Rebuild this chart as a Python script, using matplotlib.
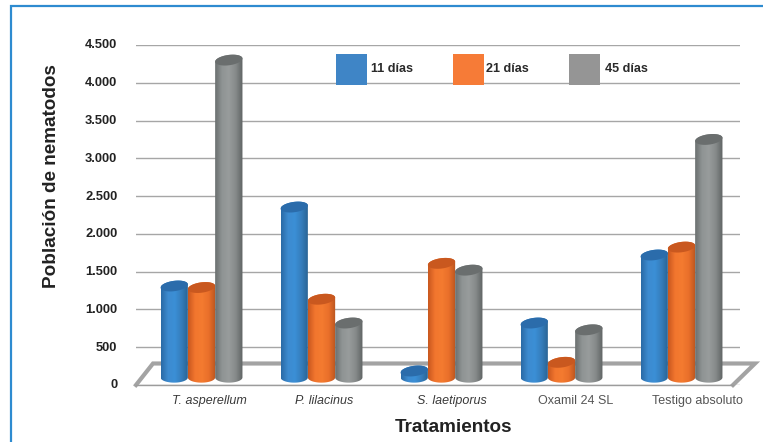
import numpy as np
import matplotlib
matplotlib.use("Agg")
import matplotlib.pyplot as plt
from matplotlib.patches import PathPatch, Polygon, Rectangle
from matplotlib.path import Path
from matplotlib.colors import LinearSegmentedColormap
from matplotlib.lines import Line2D
from matplotlib.transforms import ScaledTranslation

plt.rcParams['font.family'] = ['Liberation Sans', 'DejaVu Sans']

tratamientos = ["T. asperellum", "P. lilacinus", "S. laetiporus", "Oxamil 24 SL", "Testigo absoluto"]
dias_labels = ["11 días", "21 días", "45 días"]
dias_11 = [1310, 2355, 185, 820, 1720]
dias_21 = [1290, 1135, 1610, 300, 1825]
dias_45 = [4300, 820, 1520, 730, 3250]
yticks = [0, 500, 1000, 1500, 2000, 2500, 3000, 3500, 4000, 4500]
ylabels = ["0", "500", "1.000", "1.500", "2.000", "2.500", "3.000", "3.500", "4.000", "4.500"]

W, H = 763, 442
AX_L, AX_R, AX_T, AX_B = 136, 740, 45, 385
GROUP0, GROUP_STEP = 201.5, 120.0
BAR_W = 27.3 / GROUP_STEP

fig = plt.figure(figsize=(W / 100, H / 100), dpi=100)
ax = fig.add_axes([AX_L / W, 1 - AX_B / H, (AX_R - AX_L) / W, (AX_B - AX_T) / H])
ax.set_xlim((AX_L - GROUP0) / GROUP_STEP, (AX_R - GROUP0) / GROUP_STEP)
ax.set_ylim(0, 4500)
for s in ax.spines.values():
    s.set_visible(False)

ax.set_yticks(yticks, ylabels, fontsize=9.3, fontweight="bold", color="#222222")
ax.tick_params(axis="y", length=0, pad=13.5)
ax.yaxis.grid(True, color="#a6a6a6", lw=1)
ax.set_axisbelow(True)

label_pos = [0.067, 1.02, 2.09, 3.115, 4.13]
ax.set_xticks(label_pos, tratamientos, fontsize=9, color="#3a3a3a")
ax.tick_params(axis="x", length=0, pad=7)
for lab, name in zip(ax.get_xticklabels(), tratamientos):
    if name[1] == ".":
        lab.set_style("italic")
    else:
        lab.set_color("#555555")

# y labels sit 1px higher than the gridlines
up = ScaledTranslation(0, 1 / 100, fig.dpi_scale_trans)
for lab in ax.get_yticklabels():
    lab.set_transform(lab.get_transform() + up)


def px(x, y):
    return (x / W, 1 - y / H)


# floor of the 3d box
floor_pts = [px(136, 385), px(153, 363.5), px(755, 363.5), px(733, 385)]
fig.add_artist(Polygon(floor_pts, closed=True, fc="white", ec="none", zorder=1.5))
ax.set_zorder(2)
ax.patch.set_visible(False)
xs, ys = zip(*floor_pts)
fig.add_artist(Line2D(xs, ys, color="#a3a3a3", lw=3, solid_joinstyle="miter", zorder=1.6))
fig.add_artist(Line2D([xs[0], xs[3]], [ys[0], ys[3]], color="#9c9c9c", lw=1, zorder=1.6))

cmaps = [
    LinearSegmentedColormap.from_list("b", ["#2a6aa6", "#3d8bd0", "#3b8fd6", "#357cba", "#28608f"]),
    LinearSegmentedColormap.from_list("o", ["#c9581f", "#f2762e", "#f47b30", "#e96f2a", "#b9551f"]),
    LinearSegmentedColormap.from_list("g", ["#6b7070", "#8f9494", "#989c9c", "#868a8a", "#5f6464"]),
]
top_colors = ["#2b6cab", "#c9581f", "#6a6e6e"]
PX_Y = 4500 / (AX_B - AX_T)
ELL_H = 5.2 * PX_Y
BASE = 100.0
SLANT = 1.6 * PX_Y
grad = np.linspace(0, 1, 64).reshape(1, -1)


def cylinder(cx, val, idx):
    x0, x1 = cx - BAR_W / 2, cx + BAR_W / 2
    t = np.linspace(0, np.pi, 40)
    upper_x = cx + BAR_W / 2 * np.cos(t)
    upper_y = val + ELL_H * np.sin(t) + SLANT * np.cos(t)
    lower_x = cx - BAR_W / 2 * np.cos(t)
    lower_y = BASE - ELL_H * np.sin(t)
    verts = np.column_stack([np.r_[upper_x, lower_x], np.r_[upper_y, lower_y]])
    im = ax.imshow(grad, cmap=cmaps[idx], extent=[x0, x1, 0, val + 2 * ELL_H],
                   aspect="auto", zorder=3, interpolation="bilinear")
    body = PathPatch(Path(verts), transform=ax.transData, fc="none", ec="none")
    ax.add_patch(body)
    im.set_clip_path(body)
    lid_x = cx + BAR_W / 2 * np.cos(2 * t)
    lid_y = val + ELL_H * np.sin(2 * t) + SLANT * np.cos(2 * t)
    ax.add_patch(Polygon(np.column_stack([lid_x, lid_y]), closed=True, fc=top_colors[idx],
                         ec="none", zorder=3.5))


for i, serie in enumerate([dias_11, dias_21, dias_45]):
    for g, v in enumerate(serie):
        cylinder(g + (i - 1) * BAR_W, v, i)

ax.set_xlim((AX_L - GROUP0) / GROUP_STEP, (AX_R - GROUP0) / GROUP_STEP)
ax.set_ylim(0, 4500)

# legend
sw_x = [336, 453, 569]
txt_x = [371, 486, 605]
sw_colors = ["#3f85c6", "#f67b37", "#959595"]
for sx, tx, c, lab in zip(sw_x, txt_x, sw_colors, dias_labels):
    x, y = px(sx, 85)
    fig.add_artist(Rectangle((x, y), 31 / W, 31 / H, fc=c, ec="none", zorder=5))
    tx_, ty_ = px(tx, 69)
    fig.text(tx_, ty_, lab, fontsize=9.1, fontweight="bold", color="#2a2a2a", va="center", zorder=5)

x, y = px(52, 176.5)
fig.text(x, y, "Población de nematodos", rotation=90, fontsize=13.6, fontweight="bold",
         color="#222222", ha="center", va="center")
x, y = px(453.5, 427)
fig.text(x, y, "Tratamientos", fontsize=13.6, fontweight="bold", color="#222222", ha="center", va="center")

# blue frame
fx, fy = zip(px(11, H), px(11, 6), px(W, 6))
fig.add_artist(Line2D(fx, fy, color="#2e8bd0", lw=1.6, solid_joinstyle="miter"))

fig.savefig("out.png", dpi=100)
